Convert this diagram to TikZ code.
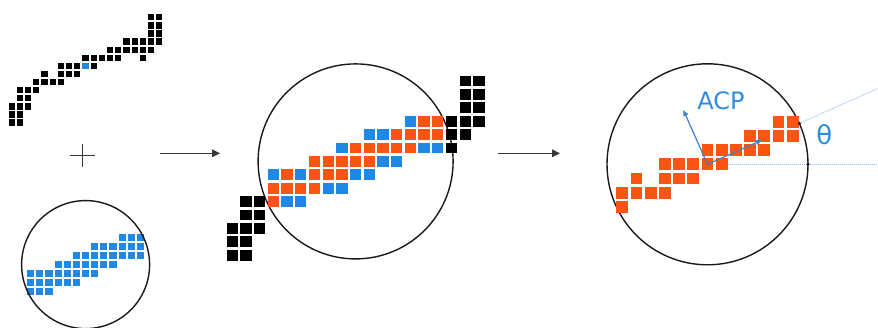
\documentclass[tikz,border=0pt]{standalone}
\usepackage{fontspec}
\setmainfont{DejaVu Sans}
\usetikzlibrary{arrows.meta,calc}

\definecolor{pxblue}{RGB}{32,136,226}
\definecolor{pxorange}{RGB}{252,84,18}
\definecolor{labelblue}{RGB}{48,140,222}
\definecolor{axisblue}{RGB}{66,128,200}
\definecolor{dotblue}{RGB}{150,196,236}
\definecolor{flowgray}{RGB}{55,55,55}

% one filled square per (column/row) pair, #2 = half side in grid units
\newcommand\pxcells[3]{\foreach \c/\r in {#3} \fill[#1] (\c-#2,\r-#2) rectangle (\c+#2,\r+#2);}

\tikzset{
  ring/.style={circle,draw=black!90,line width=1.4pt,inner sep=0pt,outer sep=0pt},
  flow/.style={draw=flowgray,line width=1.5pt,-{Triangle[length=8pt,width=7.5pt]}},
  axis/.style={draw=axisblue,line width=1.2pt,-{Triangle[length=6pt,width=5pt]}},
  guide/.style={draw=dotblue,line width=1pt,dash pattern=on 1pt off 1pt},
  tickdot/.style={circle,fill=black,inner sep=0pt,minimum size=3.2pt},
  lbl/.style={text=labelblue,font=\fontsize{24}{24}\selectfont,inner sep=0pt}
}

\begin{document}
\begin{tikzpicture}[x=1pt,y=-1pt]
\useasboundingbox (0,0) rectangle (878,327);

% ---- contour pixels
\begin{scope}[shift={(11.7,17.3)},x=8.2pt,y=-8.1pt]
  \pxcells{black}{0.39}{17/0,18/0,17/1,18/1,17/2,18/2,14/3,15/3,16/3,17/3,18/3,12/4,13/4,14/4,15/4,16/4,17/4,9/5,10/5,11/5,12/5,13/5,16/5,6/6,7/6,8/6,10/6,4/7,6/7,7/7,8/7,3/8,4/8,5/8,6/8,1/9,2/9,3/9,1/10,2/10,0/11,1/11,2/11,0/12,1/12,0/13,1/13}
  \pxcells{pxblue}{0.39}{9/6}
\end{scope}

% ---- plus sign
\node[inner sep=0pt,minimum size=0pt] (plus) at (82.3,155.7) {};
\draw[flowgray,line width=1.3pt] ($(plus)+(-12.8,0)$) -- ($(plus)+(12.8,0)$);
\draw[flowgray,line width=1.3pt] ($(plus)+(0,-11.7)$) -- ($(plus)+(0,11.7)$);

% ---- circular template
\begin{scope}[shift={(30.7,237.3)},x=9.15pt,y=-9.1pt]
  \pxcells{pxblue}{0.39}{10/0,11/0,12/0,7/1,8/1,9/1,10/1,11/1,12/1,5/2,6/2,7/2,8/2,9/2,10/2,11/2,12/2,3/3,4/3,5/3,6/3,7/3,8/3,9/3,0/4,1/4,2/4,3/4,4/4,5/4,6/4,7/4,0/5,1/5,2/5,3/5,4/5,5/5,0/6,1/6,2/6}
  \node[ring,minimum size=128pt] (tmpl) at (6,3) {};
\end{scope}

% ---- arrows between the stages
\coordinate (f1a) at (160,153.3);
\coordinate (f1b) at (220,153.3);
\coordinate (f2a) at (498,153.3);
\coordinate (f2b) at (560,153.3);
\draw[flow] (f1a) -- (f1b);
\draw[flow] (f2a) -- (f2b);

% ---- template laid over the contour
\begin{scope}[shift={(232.3,81)},x=13.7pt,y=-13.4pt]
  \node[ring,minimum size=195pt] (over) at (9,6) {};
  \pxcells{black}{0.41}{17/0,18/0,17/1,18/1,17/2,18/2,16/3,17/3,18/3,16/4,17/4,16/5,1/9,2/9,1/10,2/10,0/11,1/11,2/11,0/12,1/12,0/13,1/13}
  \pxcells{pxorange}{0.41}{14/3,15/3,12/4,13/4,14/4,15/4,9/5,10/5,11/5,12/5,13/5,6/6,7/6,8/6,9/6,10/6,4/7,6/7,7/7,8/7,3/8,4/8,5/8,6/8,3/9}
  \pxcells{pxblue}{0.41}{13/3,10/4,11/4,8/5,14/5,15/5,11/6,12/6,3/7,5/7,9/7,10/7,7/8,8/8,4/9,5/9}
\end{scope}

% ---- retained pixels and their principal axes
\coordinate (ctr) at (707.5,164.3);
\draw[guide] (ctr) -- (878,164.3);
\draw[guide] ($(ctr)+(-24:100.5)$) -- ($(ctr)+(-24:186.6)$);
\begin{scope}[shift={(622.3,121.7)},x=14.2pt,y=-14.2pt]
  \node[ring,minimum size=201pt] (result) at (6,3) {};
  \pxcells{pxorange}{0.41}{11/0,12/0,9/1,10/1,11/1,12/1,6/2,7/2,8/2,9/2,10/2,3/3,4/3,5/3,6/3,7/3,1/4,3/4,4/4,5/4,0/5,1/5,2/5,3/5,0/6}
\end{scope}
\coordinate (pc1) at ($(ctr)+(-24:59.5)$);
\coordinate (pc2) at ($(ctr)+(-114:59.5)$);
\draw[axis] (ctr) -- (pc1);
\draw[axis] (ctr) -- (pc2);
\node[tickdot] (m1) at ($(ctr)+(-24:100.5)$) {};
\node[tickdot] (m2) at ($(ctr)+(0:100.5)$) {};

\node[lbl] (acp) at (721,100.5) {ACP};
\node[lbl,font=\fontsize{26}{26}\selectfont] (theta) at (824.2,135) {θ};
\end{tikzpicture}
\end{document}
